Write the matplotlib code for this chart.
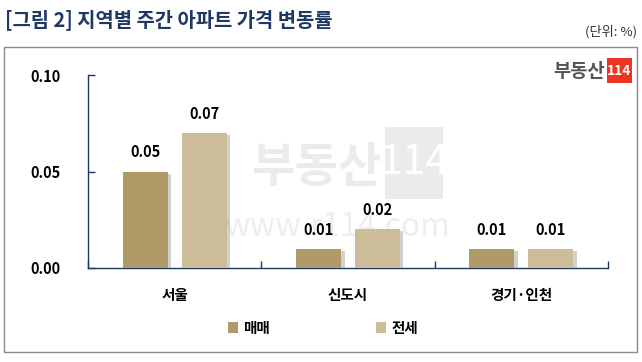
import matplotlib
matplotlib.use("Agg")
import matplotlib.pyplot as plt
import matplotlib.patheffects as pe
from matplotlib.patches import Rectangle
import numpy as np

plt.rcParams['font.family'] = ['Noto Sans CJK KR', 'DejaVu Sans']

categories = ['서울', '신도시', '경기·인천']
series_names = ['매매', '전세']
sale = [0.05, 0.01, 0.01]
jeonse = [0.07, 0.02, 0.01]
yticks = [0.00, 0.05, 0.10]
ytick_labels = ['0.00', '0.05', '0.10']
colors = ['#B09A68', '#CDBC98']
navy = '#1F3864'

fig = plt.figure(figsize=(6.42, 3.62), dpi=100)
fig.patch.set_facecolor('white')

# outer frame
fig.patches.append(Rectangle((0.0062, 0.0276), 0.9858, 0.8424, transform=fig.transFigure,
                             fill=False, edgecolor='#8c8c8c', linewidth=1.0))

fig.text(0.008, 0.945, '[그림 2] 지역별 주간 아파트 가격 변동률', fontsize=14.3,
         fontweight='black', color=navy, va='center', ha='left')
fig.text(0.992, 0.912, '(단위: %)', fontsize=9.5, color='#333333', va='center', ha='right')

ax = fig.add_axes([0.137, 0.2597, 0.81, 0.533])
x = np.arange(len(categories))
w = 0.26
off = 0.17
shadow = [pe.SimplePatchShadow(offset=(2.5, -1.5), shadow_rgbFace='#9a9a9a', alpha=0.45), pe.Normal()]
b1 = ax.bar(x - off, sale, w, color=colors[0], label=series_names[0], zorder=3)
b2 = ax.bar(x + off, jeonse, w, color=colors[1], label=series_names[1], zorder=3)
for b in list(b1) + list(b2):
    b.set_path_effects(shadow)

for bars, vals in ((b1, sale), (b2, jeonse)):
    for r, v in zip(bars, vals):
        ax.annotate(f'{v:.2f}', (r.get_x() + r.get_width() / 2, v), xytext=(0, 8),
                    textcoords='offset points', ha='center', va='bottom',
                    fontsize=10.5, fontweight='bold', color='black', zorder=5)

ax.set_xlim(-0.5, len(categories) - 0.5)
ax.set_ylim(0, 0.10)
ax.set_yticks(yticks)
ax.set_yticklabels(ytick_labels, fontsize=10.5, fontweight='bold')
ax.set_xticks(np.arange(len(categories) + 1) - 0.5, minor=True)
ax.set_xticks(x)
ax.set_xticklabels(categories, fontsize=10.5, fontweight='bold')
ax.tick_params(axis='x', which='major', length=0, pad=14)
ax.tick_params(axis='x', which='minor', direction='in', length=5, color=navy, width=1)
ax.tick_params(axis='y', direction='in', length=5, color=navy, width=1, pad=20)
for s in ['top', 'right']:
    ax.spines[s].set_visible(False)
for s in ['left', 'bottom']:
    ax.spines[s].set_color(navy)
    ax.spines[s].set_linewidth(1.0)
ax.set_facecolor('none')

# watermark
ax.text(0.44, 0.52, '부동산', transform=ax.transAxes, fontsize=34, fontweight='bold',
        color='#ebebeb', ha='center', va='center', zorder=1)
ax.add_patch(Rectangle((0.571, 0.36), 0.112, 0.37, transform=ax.transAxes,
                       facecolor='#ebebeb', edgecolor='none', zorder=1))
ax.text(0.627, 0.545, '114', transform=ax.transAxes, fontsize=30, color='white',
        ha='center', va='center', zorder=1)
ax.text(0.48, 0.215, 'www.r114.com', transform=ax.transAxes, fontsize=23,
        color='#eeeeee', ha='center', va='center', zorder=1)

# logo
fig.text(0.942, 0.803, '부동산', fontsize=13.5, fontweight='bold', color='#555555',
         ha='right', va='center')
fig.patches.append(Rectangle((0.9455, 0.771), 0.039, 0.069, transform=fig.transFigure,
                             facecolor='#EE3524', edgecolor='none'))
fig.text(0.965, 0.805, '114', fontsize=10, color='white', ha='center', va='center',
         fontweight='bold')

leg = fig.legend(handles=[b1, b2], labels=series_names, loc='center', ncol=2,
                 bbox_to_anchor=(0.503, 0.095), frameon=False, handlelength=0.7,
                 handleheight=0.7, columnspacing=7.3, handletextpad=0.35,
                 prop={'size': 10.5, 'weight': 'bold'})
for h in leg.legend_handles:
    h.set_path_effects([])

fig.savefig('out.png', dpi=100, facecolor='white')
